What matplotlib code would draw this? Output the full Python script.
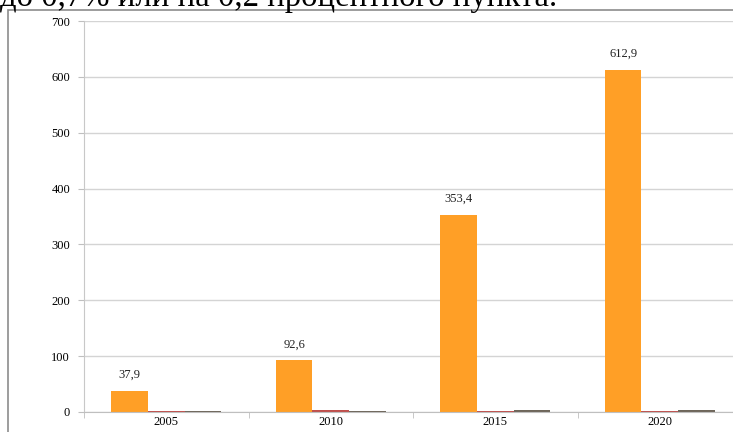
import numpy as np
import matplotlib
matplotlib.use('Agg')
from matplotlib import pyplot as plt
from matplotlib.patches import Rectangle

years = ['2005', '2010', '2015', '2020']
orange_vals = [37.9, 92.6, 353.4, 612.9]
red_vals = [1.0, 3.5, 1.2, 1.5]
gray_vals = [1.5, 1.5, 3.0, 4.0]
labels = ['37,9', '92,6', '353,4', '612,9']
yticks = [0, 100, 200, 300, 400, 500, 600, 700]

W, H = 733, 432
fig = plt.figure(figsize=(W / 100, H / 100), dpi=100)

# chart frame (cropped at right and bottom)
fig.patches.append(Rectangle((8 / W, -0.1), 1.1, 1 - 10 / H + 0.1,
                             transform=fig.transFigure, fill=False,
                             edgecolor='#8c8c8c', linewidth=1.2))

# cut-off text line above the chart
fig.text(0.0, 1 - 6 / H, 'до 0,7% или на 0,2 процентного пункта.',
         family='Liberation Serif', fontsize=23.6, va='baseline', ha='left')

left, right, bottom, top = 84, 742, 412, 21
ax = fig.add_axes([left / W, 1 - bottom / H, (right - left) / W, (bottom - top) / H])

x = np.arange(len(years))
bw = 1 / 4.5
ax.bar(x - bw, orange_vals, bw, color='#FF9F26', align='center')
ax.bar(x, red_vals, bw, color='#C0504D', align='center')
ax.bar(x + bw, gray_vals, bw, color='#6E665A', align='center')

for xi, v, lab in zip(x, orange_vals, labels):
    ax.annotate(lab, (xi - bw, v), xytext=(0, 7), textcoords='offset points',
                ha='center', va='bottom', family='Liberation Serif', fontsize=9,
                color='#222222')

ax.set_xlim(-0.5, len(years) - 0.5)
ax.set_ylim(0, 700)
ax.set_yticks(yticks)
ax.set_yticklabels([str(t) for t in yticks], family='Liberation Serif', fontsize=9)
ax.set_xticks(x)
ax.set_xticklabels(years, family='Liberation Serif', fontsize=9)
ax.set_xticks(np.arange(len(years) + 1) - 0.5, minor=True)
ax.tick_params(axis='x', which='major', length=0, pad=3)
ax.tick_params(axis='x', which='minor', length=4, color='#bfbfbf', direction='out')
ax.tick_params(axis='y', length=4, color='#bfbfbf', direction='out', pad=6)

ax.grid(axis='y', color='#d4d4d4', linewidth=1)
ax.set_axisbelow(True)
for s in ['top', 'right']:
    ax.spines[s].set_visible(False)
ax.spines['left'].set_color('#c8c8c8')
ax.spines['bottom'].set_color('#bfbfbf')

fig.savefig('out.png', dpi=100)
